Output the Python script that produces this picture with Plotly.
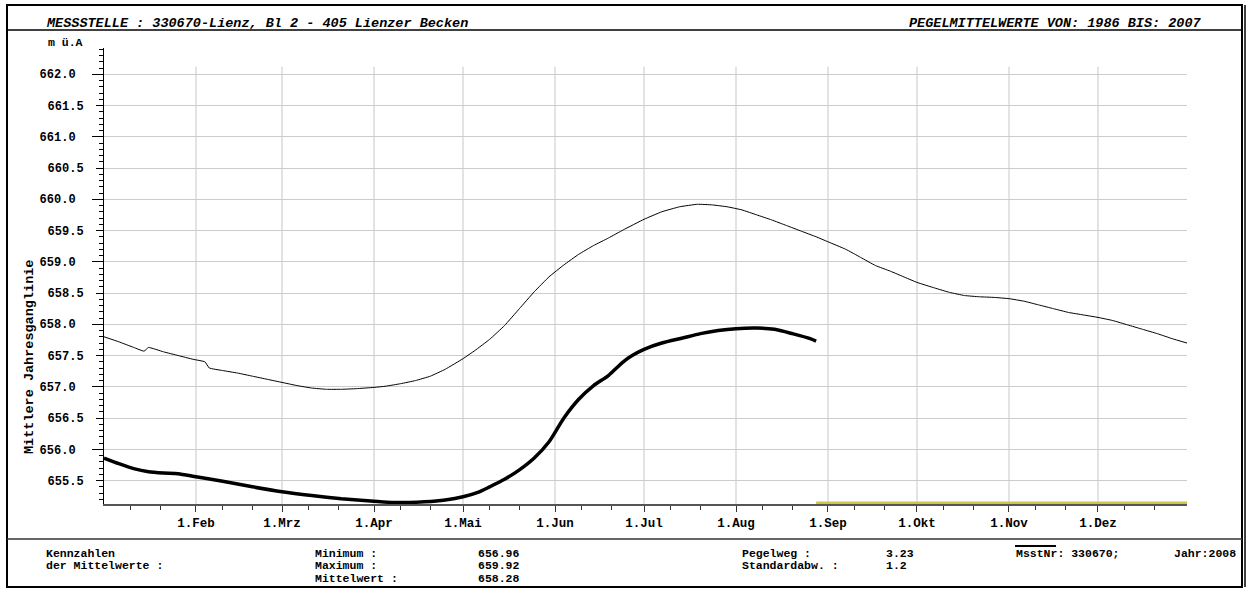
import plotly.graph_objects as go

# ---------------- data ----------------
month_days = [31, 60, 91, 121, 152, 182, 213, 244, 274, 305, 335]
month_labels = ["1.Feb", "1.Mrz", "1.Apr", "1.Mai", "1.Jun", "1.Jul",
                "1.Aug", "1.Sep", "1.Okt", "1.Nov", "1.Dez"]

# long-term mean 1986-2007 (thin line)
mean_days = [0, 5, 10, 13.5, 15, 20, 25, 30, 34, 35.5, 40, 45, 50, 55, 60, 65, 70,
             75, 80, 85, 91, 95, 100, 105, 110, 115, 121, 125, 130, 135, 140, 145,
             150, 155, 160, 165, 170, 175, 182, 188, 194, 200, 205, 210, 215, 220,
             225, 230, 235, 240, 244, 250, 255, 260, 265, 270, 274, 280, 285, 290,
             295, 300, 305, 310, 315, 320, 325, 330, 335, 340, 345, 350, 355, 360, 365]
mean_vals = [657.80, 657.72, 657.63, 657.57, 657.63, 657.56, 657.50, 657.44, 657.40,
             657.30, 657.26, 657.22, 657.17, 657.12, 657.07, 657.02, 656.98, 656.96,
             656.96, 656.97, 656.99, 657.01, 657.05, 657.10, 657.17, 657.28, 657.45,
             657.58, 657.76, 657.98, 658.25, 658.52, 658.76, 658.95, 659.12, 659.26,
             659.38, 659.51, 659.68, 659.80, 659.88, 659.92, 659.91, 659.88, 659.83,
             659.75, 659.67, 659.58, 659.49, 659.40, 659.32, 659.20, 659.07, 658.94,
             658.85, 658.75, 658.67, 658.58, 658.51, 658.46, 658.44, 658.43, 658.41,
             658.37, 658.31, 658.25, 658.19, 658.15, 658.11, 658.06, 657.99, 657.92,
             657.85, 657.77, 657.70]

# year 2008 (thick line)
year_days = [0, 5, 10, 15, 20, 25, 31, 40, 50, 60, 70, 80, 91, 97, 103, 108, 115,
             121, 126, 130, 135, 140, 145, 150, 155, 160, 165, 170, 175, 178, 182,
             188, 195, 201, 207, 213, 220, 226, 232, 238, 240]
year_vals = [655.86, 655.77, 655.69, 655.64, 655.62, 655.61, 655.56, 655.49, 655.40,
             655.32, 655.26, 655.21, 655.17, 655.15, 655.15, 655.16, 655.19, 655.24,
             655.31, 655.40, 655.52, 655.67, 655.86, 656.12, 656.50, 656.80, 657.02,
             657.18, 657.40, 657.50, 657.60, 657.70, 657.78, 657.85, 657.90, 657.93,
             657.94, 657.92, 657.85, 657.77, 657.73]

# days without data in the current year (yellow baseline)
nodata_days = [240, 365]

Y_RANGE = [655.125, 662.42]
X_RANGE = [0, 365]

# ---------------- layout geometry ----------------
W, H = 1247, 590
ML, MR, MT, MB = 104, 60, 48, 86
PW = W - ML - MR
PH = H - MT - MB


def px(x):
    return (x - ML) / PW


def py(y):
    return (H - MB - y) / PH


FONT = "Liberation Mono"

fig = go.Figure()

# vertical grid lines (month starts)
shapes = []
for d in month_days:
    shapes.append(dict(type="line", xref="x", yref="y", x0=d, x1=d,
                       y0=Y_RANGE[0], y1=662.12,
                       line=dict(color="#c8c8c8", width=1), layer="below"))

fig.add_trace(go.Scatter(x=mean_days, y=mean_vals, mode="lines",
                         line=dict(color="black", width=1, shape="spline",
                                   smoothing=0.3),
                         showlegend=False, hoverinfo="skip"))
fig.add_trace(go.Scatter(x=year_days, y=year_vals, mode="lines",
                         line=dict(color="black", width=3.5, shape="spline",
                                   smoothing=0.6),
                         showlegend=False, hoverinfo="skip"))
# yellow "no data" baseline (half of the stroke is clipped at the axis)
fig.add_trace(go.Scatter(x=nodata_days, y=[Y_RANGE[0]] * len(nodata_days),
                         mode="lines", line=dict(color="#cdc545", width=5),
                         showlegend=False, hoverinfo="skip"))

minor_x = []
for d in [0] + month_days:
    minor_x += [d + 9, d + 19]

fig.update_layout(
    width=W, height=H,
    margin=dict(l=ML, r=MR, t=MT, b=MB),
    paper_bgcolor="white", plot_bgcolor="white",
    font=dict(family=FONT, color="black"),
    xaxis=dict(range=X_RANGE, tickmode="array", tickvals=month_days,
               ticktext=month_labels, ticks="outside", ticklen=6,
               tickcolor="#333333", tickwidth=1, showgrid=False, zeroline=False,
               showline=True, linecolor="#555555", linewidth=1.5,
               layer="below traces",
               tickfont=dict(family=FONT, size=12.5, weight="bold", color="black"),
               minor=dict(tickmode="array", tickvals=minor_x, ticks="outside",
                          ticklen=4, tickcolor="#333333", showgrid=False)),
    yaxis=dict(range=Y_RANGE, tickmode="linear", tick0=655.5, dtick=1,
               tickformat=".1f", ticks="outside", ticklen=7, tickcolor="black",
               showgrid=True, gridcolor="#cccccc", gridwidth=1, zeroline=False,
               showline=True, linecolor="black", linewidth=1,
               ticklabelstandoff=10,
               tickfont=dict(family=FONT, size=12, weight="bold", color="black"),
               minor=dict(tick0=655.5, dtick=0.1, ticks="outside", ticklen=4,
                          tickcolor="black", showgrid=False)),
    yaxis2=dict(range=Y_RANGE, overlaying="y", anchor="x", side="left",
                tickmode="linear", tick0=656, dtick=1, tickformat=".1f",
                ticks="outside", ticklen=11, tickcolor="black",
                showgrid=True, gridcolor="#cccccc", gridwidth=1, zeroline=False,
                showline=False, ticklabelstandoff=14,
                tickfont=dict(family=FONT, size=12, weight="bold", color="black")),
)

# dummy trace to activate yaxis2
fig.add_trace(go.Scatter(x=[None], y=[None], yaxis="y2", showlegend=False,
                         hoverinfo="skip"))

# frame
shapes += [
    dict(type="rect", xref="paper", yref="paper", x0=px(7), x1=px(1242),
         y0=py(587), y1=py(5), line=dict(color="black", width=2)),
    dict(type="line", xref="paper", yref="paper", x0=px(1245), x1=px(1245),
         y0=py(587), y1=py(5), line=dict(color="black", width=1.5)),
    dict(type="line", xref="paper", yref="paper", x0=px(7), x1=px(1242),
         y0=py(30), y1=py(30), line=dict(color="black", width=1.5)),
    dict(type="line", xref="paper", yref="paper", x0=px(7), x1=px(1242),
         y0=py(539), y1=py(539), line=dict(color="#333333", width=1.5)),
    dict(type="line", xref="paper", yref="paper", x0=px(1015), x1=px(1056),
         y0=py(546), y1=py(546), line=dict(color="black", width=2)),
]
fig.update_layout(shapes=shapes)


def txt(s, x, y, size=13.5, anchor="left", angle=0):
    return dict(text=s, xref="paper", yref="paper", x=px(x), y=py(y),
                xanchor=anchor, yanchor="middle", showarrow=False,
                textangle=angle,
                font=dict(family=FONT, size=size, color="black", weight="bold"))


FS = 11.5
annots = [
    txt("<i>MESSSTELLE : 330670-Lienz, Bl 2 - 405 Lienzer Becken</i>", 44, 23),
    txt("<i>PEGELMITTELWERTE VON: 1986 BIS: 2007</i>", 1204, 23, anchor="right"),
    txt("m ü.A", 65, 42, size=11.5, anchor="center"),
    txt("Mittlere Jahresganglinie", 29, 357, anchor="center", angle=-90),
    txt("Kennzahlen", 44, 553, size=FS),
    txt("der Mittelwerte :", 44, 565.5, size=FS),
    txt("Minimum :", 313, 553, size=FS),
    txt("Maximum :", 313, 565.5, size=FS),
    txt("Mittelwert :", 313, 578, size=FS),
    txt("656.96", 476, 553, size=FS),
    txt("659.92", 476, 565.5, size=FS),
    txt("658.28", 476, 578, size=FS),
    txt("Pegelweg :", 740, 553, size=FS),
    txt("Standardabw. :", 740, 565.5, size=FS),
    txt("3.23", 884, 553, size=FS),
    txt("1.2", 884, 565.5, size=FS),
    txt("MsstNr: 330670;", 1014, 553, size=FS),
    txt("Jahr:2008", 1238, 553, size=FS, anchor="right"),
]
fig.update_layout(annotations=annots)

fig.write_html("out.html")
